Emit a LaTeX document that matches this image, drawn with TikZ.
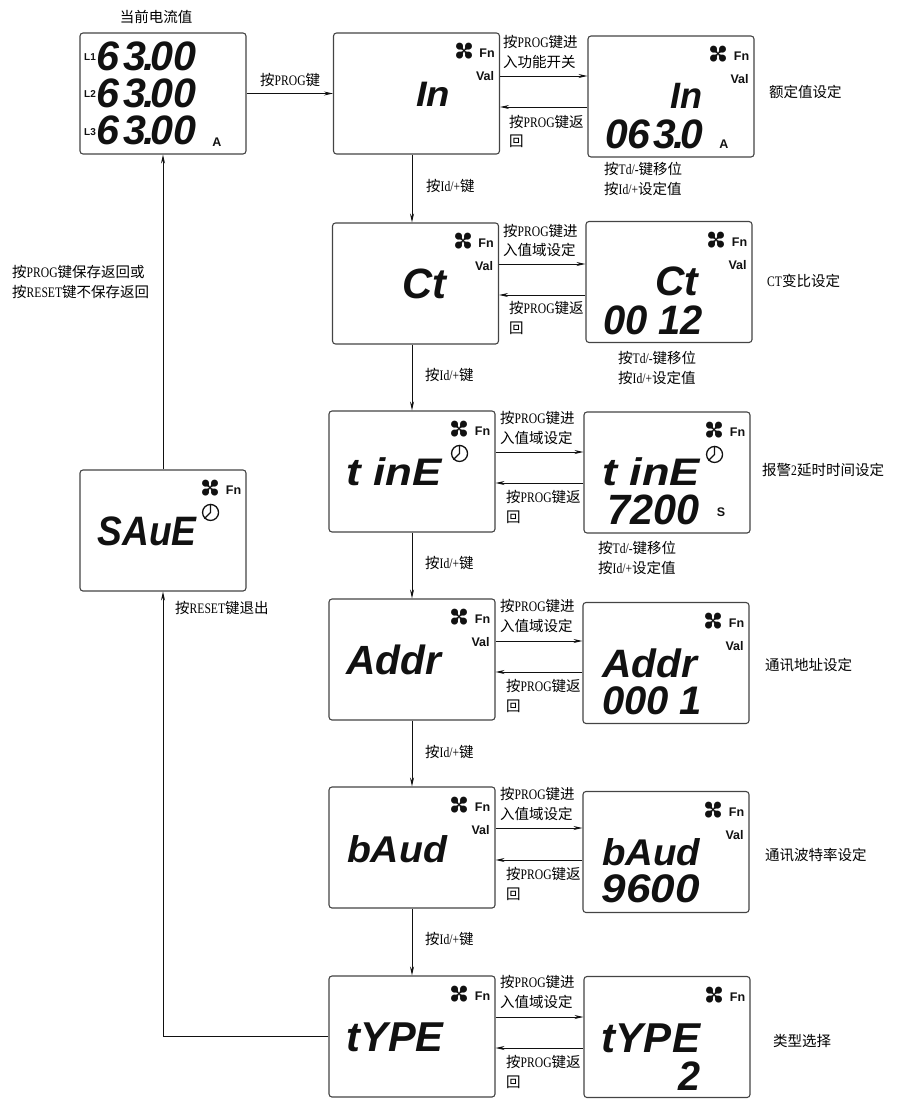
\documentclass[tikz,border=0pt]{standalone}
\usepackage{graphicx}
\usepackage{fontspec}
\setmainfont{Liberation Serif}
\newfontfamily\cjk{Noto Sans CJK SC}
\newfontfamily\lcdfont{Liberation Sans}
\newfontfamily\iconfont{DejaVu Sans}
\usetikzlibrary{arrows.meta,calc}
\definecolor{lcdedge}{HTML}{444444}
\definecolor{lcdink}{HTML}{111111}
\newcommand{\zh}[1]{{\cjk\fontsize{14.5}{19.5}\selectfont #1}}
\newcommand{\en}[1]{\scalebox{.8}[1]{\fontsize{14.5}{19.5}\selectfont #1}}
\newcommand{\lcd}[3]{\resizebox{#1pt}{\dimexpr #2pt*87/100\relax}{\lcdfont\bfseries\itshape #3}}
\newcommand{\progin}{\zh{按}\en{PROG}\zh{键进}}
\newcommand{\progback}{\zh{按}\en{PROG}\zh{键返}\\\zh{回}}
\newcommand{\tdid}{\zh{按}\en{Td/-}\zh{键移位}\\\zh{按}\en{Id/+}\zh{设定值}}
\newcommand{\idkey}{\zh{按}\en{Id/+}\zh{键}}
\newcommand{\amps}{6\kern.08em3\kern-.06em.\kern-.12em00}
\tikzset{
  lcdbox/.style={draw=lcdedge, line width=1.1pt, rounded corners=3pt, minimum width=166pt,
                 minimum height=121pt, inner sep=0pt},
  lcdtext/.style={inner sep=0pt, text=lcdink},
  lcdmark/.style={inner sep=0pt, text=lcdink, font=\lcdfont\bfseries\fontsize{12.5}{13}\selectfont},
  fanmark/.style={inner sep=0pt, text=lcdink, rotate=45, font=\iconfont\fontsize{26}{26}\selectfont},
  clockmark/.style={draw=lcdink, line width=1.3pt, circle, minimum size=16pt, inner sep=0pt},
  keylabel/.style={anchor=west, align=left, inner sep=0pt, font=\fontsize{14.5}{19.5}\selectfont},
  keyarrow/.style={-{Stealth[length=9pt,width=4pt]}, line width=0.9pt, draw=lcdink},
}
\begin{document}
\begin{tikzpicture}[x=1pt,y=-1pt]
        \useasboundingbox (0,0) rectangle (903,1101);
        % ---------------- screens ----------------
        \node[lcdbox] (cur) at (163,93.5) {};
        \node[lcdbox] (save) at (163,530.5) {};
        \node[lcdbox] (inp) at (416.5,93.5) {};
        \node[lcdbox] (inpval) at (671,96.5) {};
        \node[lcdbox] (ct) at (415.5,283.5) {};
        \node[lcdbox] (ctval) at (669,282) {};
        \node[lcdbox] (tine) at (412,471.5) {};
        \node[lcdbox] (tineval) at (667,472.5) {};
        \node[lcdbox] (addr) at (412,659.5) {};
        \node[lcdbox] (addrval) at (666,663) {};
        \node[lcdbox] (baud) at (412,847.5) {};
        \node[lcdbox] (baudval) at (666,852) {};
        \node[lcdbox] (type) at (412,1036.5) {};
        \node[lcdbox] (typeval) at (667,1037) {};
        % ---------------- readings ----------------
        \node[lcdtext] (curA) at (146.5,56.5) {\lcd{99}{33}{\amps}};
        \node[lcdtext] (curB) at (146.5,93.5) {\lcd{99}{33}{\amps}};
        \node[lcdtext] (curC) at (146.5,130.5) {\lcd{99}{33}{\amps}};
        \node[lcdmark, font=\lcdfont\bfseries\fontsize{10}{10}\selectfont] (curAl) at (90,57) {L1};
        \node[lcdmark, font=\lcdfont\bfseries\fontsize{10}{10}\selectfont] (curBl) at (90,94) {L2};
        \node[lcdmark, font=\lcdfont\bfseries\fontsize{10}{10}\selectfont] (curCl) at (90,132) {L3};
        \node[lcdmark] (curunit) at (217,142) {A};
        \node[lcdtext] (savetxt) at (147,531) {\lcd{99}{33}{SAuE}};
        \node[lcdtext] (inptxt) at (433,94) {\lcd{34}{28}{In}};
        \node[lcdtext] (inpvtxt) at (686,96) {\lcd{32}{29}{In}};
        \node[lcdtext] (inpnum) at (654,134) {\lcd{98}{33}{06\kern.08em3\kern-.06em.\kern-.12em0}};
        \node[lcdmark] (inpunit) at (724,144) {A};
        \node[lcdtext] (cttxt) at (424,284) {\lcd{44}{34}{Ct}};
        \node[lcdtext] (ctvtxt) at (677,281) {\lcd{43}{33}{Ct}};
        \node[lcdtext] (ctnum) at (653,320) {\lcd{100}{33}{00 12}};
        \node[lcdtext] (tinetxt) at (394,472) {\lcd{95}{32}{t inE}};
        \node[lcdtext] (tinevtxt) at (651,472) {\lcd{98}{32}{t inE}};
        \node[lcdtext] (tinenum) at (654,510) {\lcd{92}{34}{7200}};
        \node[lcdmark] (tineunit) at (721,512) {S};
        \node[lcdtext] (addrtxt) at (394,660) {\lcd{95}{34}{Addr}};
        \node[lcdtext] (addrvtxt) at (650,663) {\lcd{95}{33}{Addr}};
        \node[lcdtext] (addrnum) at (652,701) {\lcd{100}{32}{000 1}};
        \node[lcdtext] (baudtxt) at (397,849) {\lcd{100}{31}{bAud}};
        \node[lcdtext] (baudvtxt) at (651,852) {\lcd{98}{31}{bAud}};
        \node[lcdtext] (baudnum) at (651,889) {\lcd{98}{32}{9600}};
        \node[lcdtext] (typetxt) at (395,1037) {\lcd{97}{33}{tYPE}};
        \node[lcdtext] (typevtxt) at (651,1038) {\lcd{98}{33}{tYPE}};
        \node[lcdtext] (typenum) at (689,1076) {\lcd{22}{33}{2}};
        % ---------------- icons ----------------
        \foreach \b in {save,inp,inpval,ct,ctval,tine,tineval,addr,addrval,baud,baudval,type,typeval} {
          \node[fanmark] (\b fan) at ([xshift=-36pt,yshift=-19pt]\b.north east) {✤};
          \node[lcdmark] (\b fn) at ([xshift=-13pt,yshift=-21pt]\b.north east) {Fn};
        }
        \foreach \b in {inp,inpval,ct,ctval,addr,addrval,baud,baudval} {
          \node[lcdmark] (\b mark) at ([xshift=-15pt,yshift=-44pt]\b.north east) {Val};
        }
        \foreach \b in {save,tine,tineval} {
          \node[clockmark] (\b clock) at ([xshift=-36pt,yshift=-43pt]\b.north east) {};
          \draw[draw=lcdink, line width=1.3pt] (\b clock.north) -- (\b clock.center) -- (\b clock.south west);
        }
        % ---------------- labels ----------------
        \node[inner sep=0pt] (curtitle) at (156,17) {\zh{当前电流值}};
        \node[keylabel] (enterlbl) at (260,80) {\zh{按}\en{PROG}\zh{键}};
        \node[keylabel] (keeplbl) at (12,282) {\zh{按}\en{PROG}\zh{键保存返回或}\\\zh{按}\en{RESET}\zh{键不保存返回}};
        \node[keylabel] (quitlbl) at (175,608) {\zh{按}\en{RESET}\zh{键退出}};
        \node[keylabel] (inpin) at (503,52) {\progin\\\zh{入功能开关}};
        \node[keylabel] (inpback) at (509,131.5) {\progback};
        \node[keylabel] (inptd) at (604,179) {\tdid};
        \node[keylabel] (inpname) at (769,92) {\zh{额定值设定}};
        \node[keylabel] (inpid) at (426,186) {\idkey};
        \node[keylabel] (ctin) at (503,240.5) {\progin\\\zh{入值域设定}};
        \node[keylabel] (ctback) at (509,318) {\progback};
        \node[keylabel] (cttd) at (618,368) {\tdid};
        \node[keylabel] (ctname) at (767,281) {\en{CT}\zh{变比设定}};
        \node[keylabel] (ctid) at (425,375) {\idkey};
        \node[keylabel] (tinein) at (500,428) {\progin\\\zh{入值域设定}};
        \node[keylabel] (tineback) at (506,507) {\progback};
        \node[keylabel] (tinetd) at (598,558) {\tdid};
        \node[keylabel] (tinename) at (762,470) {\zh{报警}\en{2}\zh{延时时间设定}};
        \node[keylabel] (tineid) at (425,563) {\idkey};
        \node[keylabel] (addrin) at (500,616) {\progin\\\zh{入值域设定}};
        \node[keylabel] (addrback) at (506,696) {\progback};
        \node[keylabel] (addrname) at (765,665) {\zh{通讯地址设定}};
        \node[keylabel] (addrid) at (425,752) {\idkey};
        \node[keylabel] (baudin) at (500,804) {\progin\\\zh{入值域设定}};
        \node[keylabel] (baudback) at (506,884) {\progback};
        \node[keylabel] (baudname) at (765,855) {\zh{通讯波特率设定}};
        \node[keylabel] (baudid) at (425,939) {\idkey};
        \node[keylabel] (typein) at (500,992) {\progin\\\zh{入值域设定}};
        \node[keylabel] (typeback) at (506,1072) {\progback};
        \node[keylabel] (typename) at (773,1041) {\zh{类型选择}};
        % ---------------- arrows ----------------
        \draw[keyarrow] (cur) -- (inp);
        \draw[keyarrow] (save) -- (cur);
        \draw[keyarrow] (type.west) -| (save.south);
        \foreach \a/\b in {inp/ct,ct/tine,tine/addr,addr/baud,baud/type} {
          \draw[keyarrow] (\a.south -| tine) -- (\b.north -| tine);
        }
        \foreach \a/\b/\u/\d in {inp/inpval/76/107,ct/ctval/264/295,tine/tineval/452/483,
                                 addr/addrval/641/672,baud/baudval/828/860,type/typeval/1017/1048} {
          \draw[keyarrow] (\a.east |- 0,\u) -- (\b.west |- 0,\u);
          \draw[keyarrow] (\b.west |- 0,\d) -- (\a.east |- 0,\d);
        }
\end{tikzpicture}
\end{document}
